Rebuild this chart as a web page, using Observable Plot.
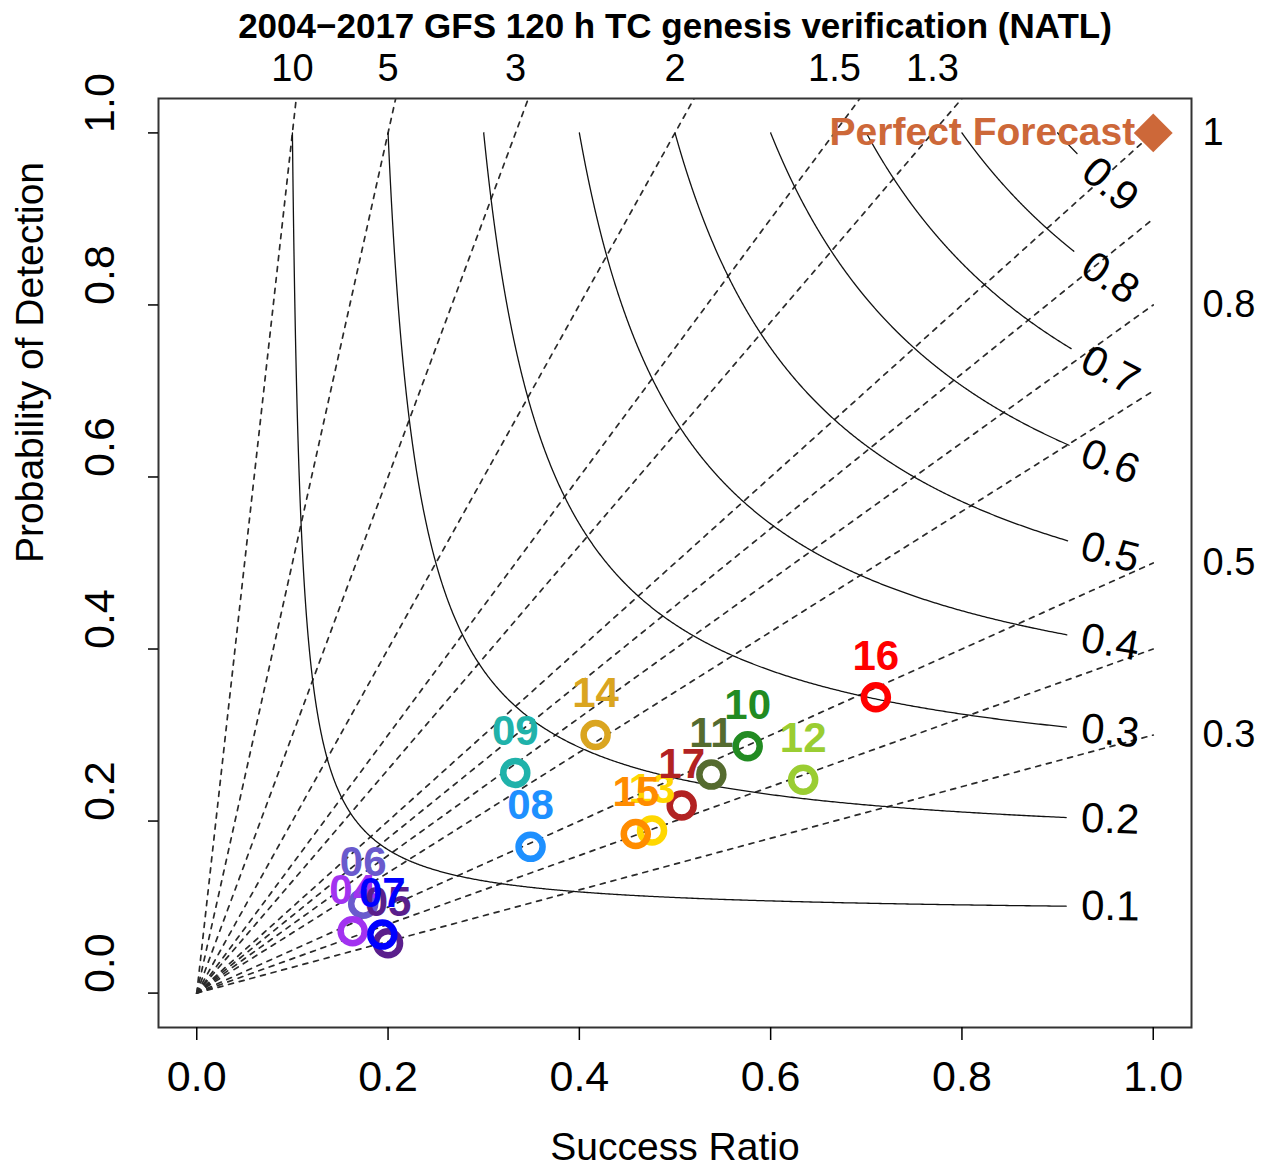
<!DOCTYPE html>
<html><head><meta charset="utf-8">
<script src="https://cdn.jsdelivr.net/npm/d3@7"></script>
<script src="https://cdn.jsdelivr.net/npm/@observablehq/plot@0.6"></script>
<style>body{margin:0;background:#fff} svg{display:block}</style>
</head><body><div id="chart"></div>
<script>
// ---- data ----
const years        = ["04","05","06","07","08","09","10","11","12","13","14","15","16","17"];
const successRatio = [0.163,0.200,0.174,0.194,0.349,0.333,0.576,0.538,0.634,0.476,0.417,0.459,0.710,0.507];
const probDetect   = [0.072,0.058,0.104,0.068,0.170,0.256,0.287,0.254,0.248,0.189,0.300,0.185,0.344,0.218];
const yearColors   = ["#A232F0","#5A1E8C","#6A5ACD","#0000FF","#1E90FF","#20B2AA","#228B22","#556B2F","#9ACD32","#FFD700","#DAA520","#FF8C00","#FF0000","#B22222"];
const drawOrder    = [2,0,1,3,4,5,6,7,8,9,10,11,12,13];

const csiLevels       = [0.1,0.2,0.3,0.4,0.5,0.6,0.7,0.8,0.9];
const biasLevels      = [0.3,0.4,0.5,0.7,0.8,0.9,1,1.3,1.5,2,3,5,10];
const topBiasLabels   = [10,5,3,2,1.5,1.3];
const rightBiasLabels = [1,0.8,0.5,0.3];
const xTicks = [0,0.2,0.4,0.6,0.8,1.0];
const yTicks = [0,0.2,0.4,0.6,0.8,1.0];

const titleText = "2004\u22122017 GFS 120 h TC genesis verification (NATL)";
const xLabel = "Success Ratio";
const yLabel = "Probability of Detection";
const perfectLabel = "Perfect Forecast";

// ---- layout ----
const W = 1268, H = 1168, mL = 158, mR = 77, mT = 98, mB = 141;
const domX = [-0.04, 1.04], domY = [-0.04, 1.04];
const kx = (W - mL - mR) / (domX[1] - domX[0]);
const ky = (H - mT - mB) / (domY[1] - domY[0]);
const font = "Liberation Sans, Arial, Helvetica, sans-serif";

// ---- table of points ----
const points = drawOrder.map(i => ({year: years[i], sr: successRatio[i], pod: probDetect[i], color: yearColors[i]}));

// ---- bias lines (POD = bias * SR) ----
const biasLines = biasLevels.flatMap(b => [{b, sr: 0, pod: 0}, {b, sr: 1, pod: b}]);

// ---- CSI isolines ----
const csi = (c, sr) => 1 / (1 / c + 1 - 1 / sr);
const labelSR = 0.955;
const contourPts = [], contourLabels = [];
for (const c of csiLevels) {
  const podL = csi(c, labelSR);
  const slope = (podL / labelSR) ** 2;
  const angle = Math.atan(slope * ky / kx) * 180 / Math.PI;
  contourLabels.push({c, sr: labelSR, pod: podL, angle});
  const endSR = labelSR - 44 * Math.cos(angle * Math.PI / 180) / kx;
  const n = 800;
  for (let i = 0; i <= n; i++) {
    const t = i / n;
    const sr = c + (endSR - c) * t * t * t;
    contourPts.push({c, sr, pod: csi(c, sr)});
  }
}

const fmt1 = d3.format(".1f");

const chart = Plot.plot({
  width: W, height: H,
  marginLeft: mL, marginRight: mR, marginTop: mT, marginBottom: mB,
  x: {domain: domX},
  y: {domain: domY},
  color: {type: "identity"},
  style: {fontFamily: font, background: "white", overflow: "visible", color: "black"},
  marks: [
    Plot.line(biasLines, {x: "sr", y: "pod", z: "b", stroke: "#2a2a2a", strokeWidth: 1.7, strokeDasharray: "5,6", clip: true}),
    Plot.line(contourPts, {x: "sr", y: "pod", z: "c", stroke: "#111", strokeWidth: 1.3, clip: true}),
    Plot.text(contourLabels, {x: "sr", y: "pod", text: d => fmt1(d.c), rotate: "angle", fontSize: 42, fill: "black", lineAnchor: "middle"}),
    Plot.frame({stroke: "#333", strokeWidth: 2}),
    Plot.axisX({ticks: xTicks, tickSize: 13, tickFormat: () => "", label: null, strokeWidth: 1.5}),
    Plot.axisY({ticks: yTicks, tickSize: 10, tickFormat: () => "", label: null, strokeWidth: 1.5}),
    Plot.text(xTicks, {x: d => d, frameAnchor: "bottom", dy: 50, lineAnchor: "middle", text: d => fmt1(d), fontSize: 43, fill: "black"}),
    Plot.text(yTicks, {y: d => d, frameAnchor: "left", dx: -58, rotate: -90, lineAnchor: "middle", text: d => fmt1(d), fontSize: 43, fill: "black"}),
    Plot.text([xLabel], {frameAnchor: "bottom", dy: 120, lineAnchor: "middle", text: d => d, fontSize: 39, fill: "black"}),
    Plot.text([yLabel], {frameAnchor: "left", dx: -128, rotate: -90, lineAnchor: "middle", text: d => d, fontSize: 39, fill: "black"}),
    Plot.text(topBiasLabels, {x: d => 1 / d, frameAnchor: "top", dy: -30, lineAnchor: "middle", text: d => String(d), fontSize: 38, fill: "black"}),
    Plot.text(rightBiasLabels, {y: d => d, frameAnchor: "right", dx: 11, textAnchor: "start", lineAnchor: "middle", text: d => String(d), fontSize: 38, fill: "black"}),
    Plot.dot(points, {x: "sr", y: "pod", r: 12, stroke: "color", strokeWidth: 6.5, fill: "none"}),
    Plot.text(points, {x: "sr", y: "pod", text: "year", dy: -41, lineAnchor: "middle", fill: "color", fontSize: 42, fontWeight: "bold"}),
    Plot.dot([{sr: 1, pod: 1}], {x: "sr", y: "pod", symbol: "square", rotate: 45, r: 15.5, fill: "#CD6839", stroke: "none"}),
    Plot.text([{sr: 1, pod: 1, t: perfectLabel}], {x: "sr", y: "pod", text: "t", textAnchor: "end", lineAnchor: "middle", dx: -18, fill: "#CD6839", fontSize: 39, fontWeight: "bold"}),
    Plot.text([titleText], {frameAnchor: "top", dy: -72, lineAnchor: "middle", text: d => d, fontSize: 35, fontWeight: "bold", fill: "black"})
  ]
});
document.getElementById("chart").appendChild(chart);
</script>
</body></html>
